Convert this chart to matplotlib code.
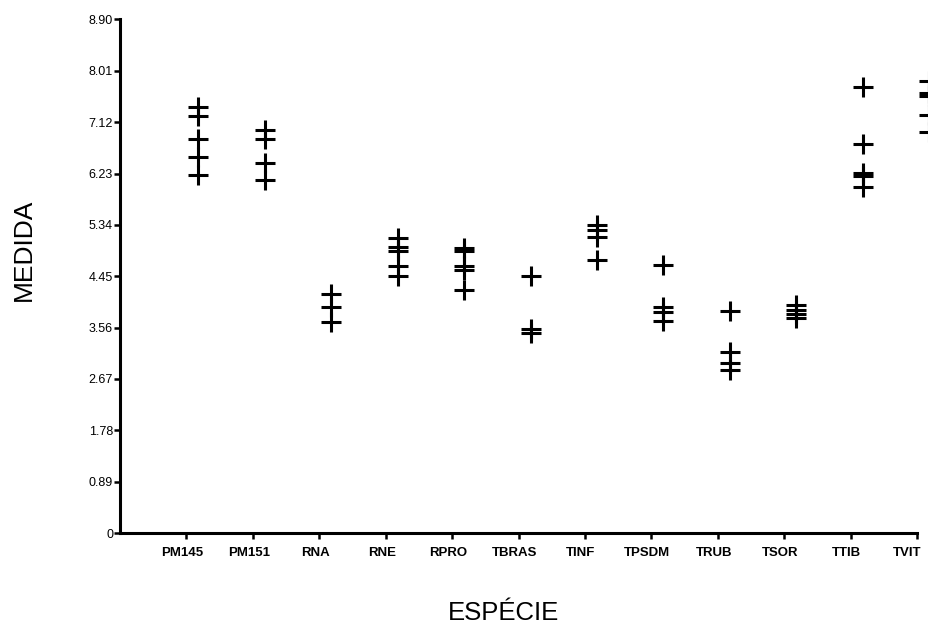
import matplotlib
matplotlib.use("Agg")
import matplotlib.pyplot as plt
import matplotlib.transforms as mtransforms
import numpy as np

plt.rcParams['font.family'] = ['Liberation Sans', 'DejaVu Sans']

especies = ['PM145', 'PM151', 'RNA', 'RNE', 'RPRO', 'TBRAS',
            'TINF', 'TPSDM', 'TRUB', 'TSOR', 'TTIB', 'TVIT']

pm145 = [7.39, 7.22, 6.82, 6.51, 6.20]
pm151 = [6.99, 6.82, 6.42, 6.12]
rna = [4.14, 3.91, 3.65]
rne = [5.11, 4.95, 4.89, 4.63, 4.45]
rpro = [4.94, 4.89, 4.63, 4.55, 4.22]
tbras = [4.46, 3.53, 3.47]
tinf = [5.33, 5.26, 5.13, 4.73]
tpsdm = [4.64, 3.91, 3.83, 3.68]
trub = [3.84, 3.14, 2.95, 2.82]
tsor = [3.95, 3.86, 3.79, 3.72]
ttib = [7.73, 6.75, 6.24, 6.18, 6.00]
tvit = [7.83, 7.63, 7.58, 7.24, 6.95]

medidas = [pm145, pm151, rna, rne, rpro, tbras,
           tinf, tpsdm, trub, tsor, ttib, tvit]

yticks = [0, 0.89, 1.78, 2.67, 3.56, 4.45, 5.34, 6.23, 7.12, 8.01, 8.90]
ytick_labels = ['0', '0.89', '1.78', '2.67', '3.56', '4.45',
                '5.34', '6.23', '7.12', '8.01', '8.90']

fig = plt.figure(figsize=(9.29, 6.24), dpi=100)
ax = fig.add_axes([0.1292, 0.1458, 0.858, 0.823])

# the markers sit a little to the right of the category ticks
desloc = 0.18
for i, vals in enumerate(medidas):
    xs = np.full(len(vals), i + 1 + desloc)
    ax.plot(xs, vals, linestyle='none', marker='+', color='black',
            markersize=14, markeredgewidth=2.2, clip_on=False)

ax.set_xlim(0, 12)
ax.set_ylim(0, 8.90)
ax.set_xticks(range(1, 13))
ax.set_xticklabels(especies, fontsize=9.5, fontweight='bold')
ax.set_yticks(yticks)
ax.set_yticklabels(ytick_labels, fontsize=9)

for s in ['top', 'right']:
    ax.spines[s].set_visible(False)
for s in ['left', 'bottom']:
    ax.spines[s].set_linewidth(2.2)

ax.tick_params(axis='y', direction='out', length=4, width=1.8, pad=1)
ax.tick_params(axis='x', direction='out', length=4, width=1.8, pad=6)

# labels sit slightly left of their ticks; the last one ends at the axis end
shift = mtransforms.ScaledTranslation(-4 / 100, 0, fig.dpi_scale_trans)
for lab in ax.get_xticklabels():
    lab.set_transform(lab.get_transform() + shift)
ax.get_xticklabels()[-1].set_horizontalalignment('right')
ax.get_xticklabels()[-1].set_transform(
    ax.get_xticklabels()[-1].get_transform()
    + mtransforms.ScaledTranslation(8 / 100, 0, fig.dpi_scale_trans))

fig.text(0.0258, 0.599, 'MEDIDA', rotation=90, ha='center', va='center',
         fontsize=19)
fig.text(0.5415, 0.006, 'ESPÉCIE', ha='center', va='baseline', fontsize=18.5)

fig.savefig('out.png', dpi=100, facecolor='white')
